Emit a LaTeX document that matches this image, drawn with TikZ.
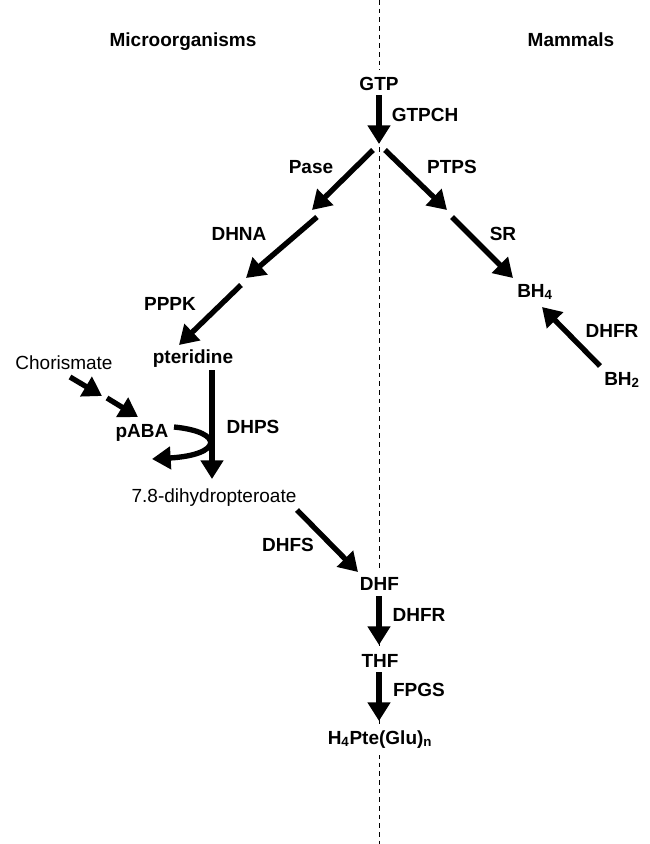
\documentclass[tikz,border=0pt]{standalone}
\usepackage{fontspec}
\setmainfont{Liberation Sans}
\usetikzlibrary{arrows.meta}
\begin{document}
\begin{tikzpicture}[x=0.75pt,y=-0.75pt,
  lbl/.style={font=\fontsize{14.25}{17}\selectfont\bfseries, inner sep=0pt, anchor=base},
  reg/.style={font=\fontsize{14.25}{17}\selectfont, inner sep=0pt, anchor=base},
  online/.style={fill=white, inner xsep=2pt, inner ysep=5pt},
  arr/.style={line width=4pt, -{Triangle[width=16.5pt,length=14pt]}},
  divider/.style={line width=0.75pt, dash pattern=on 3.5pt off 3pt}]
\useasboundingbox (0,0) rectangle (650,844);

% divider line
\coordinate (top) at (379,0);
\coordinate (bot) at (379,844);
\draw[divider] (top) -- (bot);

% headings
\node[lbl] (micro) at (183,46) {Microorganisms};
\node[lbl] (mamm) at (571,46) {Mammals};

% compounds
\node[lbl,online] (gtp) at (379,90) {GTP};
\node[lbl] (pter) at (193,363) {pteridine};
\node[lbl,anchor=base west] (bh4) at (517,297) {BH\textsubscript{4}};
\node[lbl,anchor=base west] (bh2) at (604,385) {BH\textsubscript{2}};
\node[reg] (chor) at (64,369) {Chorismate};
\node[lbl] (paba) at (142,437) {pABA};
\node[reg] (dhp) at (214,502) {7.8-dihydropteroate};
\node[lbl,online] (dhf) at (379.5,590) {DHF};
\node[lbl,online] (thf) at (380,667) {THF};
\node[lbl,online] (h4) at (380,744) {H\textsubscript{4}Pte(Glu)\textsubscript{n}};

% enzymes
\node[lbl] (gtpch) at (425,121.5) {GTPCH};
\node[lbl] (pase) at (311,173) {Pase};
\node[lbl] (ptps) at (452,173) {PTPS};
\node[lbl] (dhna) at (239,240) {DHNA};
\node[lbl] (sr) at (503,240) {SR};
\node[lbl] (pppk) at (170,310) {PPPK};
\node[lbl] (dhfrm) at (612,337) {DHFR};
\node[lbl] (dhps) at (253,433) {DHPS};
\node[lbl] (dhfs) at (288,551) {DHFS};
\node[lbl] (dhfr) at (419,621) {DHFR};
\node[lbl] (fpgs) at (419,696) {FPGS};

% arrow end points
\coordinate (a1s) at (379,95);  \coordinate (a1e) at (379,144);
\coordinate (a2s) at (373,150); \coordinate (a2e) at (312,210);
\coordinate (a3s) at (317,217); \coordinate (a3e) at (246,278);
\coordinate (a4s) at (241,285); \coordinate (a4e) at (179,345);
\coordinate (b1s) at (385,150); \coordinate (b1e) at (447,210);
\coordinate (b2s) at (452,217); \coordinate (b2e) at (513,278);
\coordinate (b3s) at (600,366); \coordinate (b3e) at (542,307);
\coordinate (c1s) at (70,377);  \coordinate (c1e) at (102,396);
\coordinate (c2s) at (107,398); \coordinate (c2e) at (138,417);
\coordinate (d1s) at (212,370); \coordinate (d1e) at (212,479);
\coordinate (cvs) at (174,427); \coordinate (cve) at (152,459);
\coordinate (e1s) at (297,510); \coordinate (e1e) at (358,572);
\coordinate (f1s) at (379,596); \coordinate (f1e) at (379,645);
\coordinate (g1s) at (379,672); \coordinate (g1e) at (379,721);

% arrows
\draw[arr] (a1s) -- (a1e);
\draw[arr] (a2s) -- (a2e);
\draw[arr] (a3s) -- (a3e);
\draw[arr] (a4s) -- (a4e);
\draw[arr] (b1s) -- (b1e);
\draw[arr] (b2s) -- (b2e);
\draw[arr] (b3s) -- (b3e);
\draw[arr] (c1s) -- (c1e);
\draw[arr] (c2s) -- (c2e);
\draw[arr] (d1s) -- (d1e);
\draw[arr] (cvs) .. controls (225,432) and (222,455) .. (cve);
\draw[arr] (e1s) -- (e1e);
\draw[arr] (f1s) -- (f1e);
\draw[arr] (g1s) -- (g1e);
\end{tikzpicture}
\end{document}
